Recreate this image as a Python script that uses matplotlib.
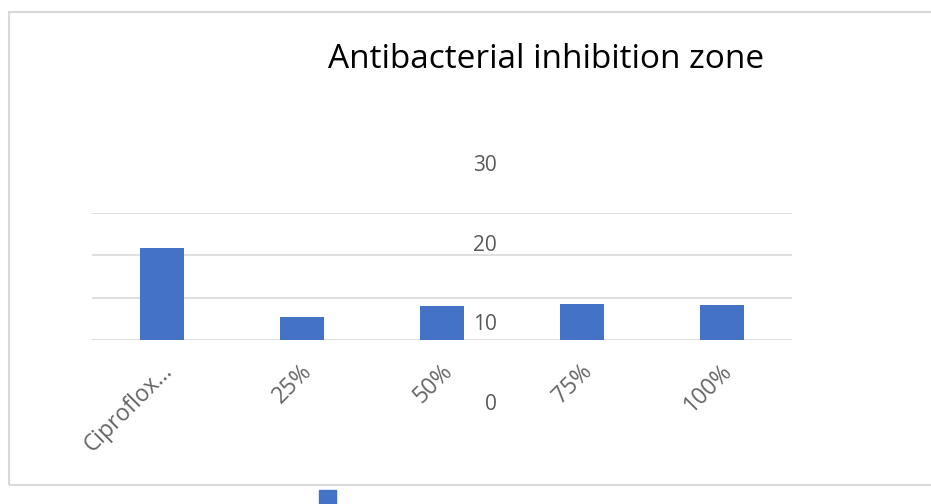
import matplotlib.pyplot as plt
import matplotlib.transforms as mtransforms
from matplotlib.patches import Rectangle

# data
categories = ['Ciproflox...', '25%', '50%', '75%', '100%']
zone = [21.8, 5.5, 8.1, 8.6, 8.3]
yticks = [0, 10, 20, 30]

W, H = 931, 504
fig = plt.figure(figsize=(W / 100, H / 100), dpi=100)
plt.rcParams['font.family'] = ['Open Sans', 'DejaVu Sans']

def px(x0, y0, x1, y1):
    # pixel box (top-left origin) -> figure fraction rect
    return [x0 / W, 1 - y1 / H, (x1 - x0) / W, (y1 - y0) / H]

# outer chart frame
fig.patches.append(Rectangle((9 / W, 1 - 485 / H), 1.0, (485 - 12) / H,
                             transform=fig.transFigure, fill=False,
                             edgecolor='#d9d9d9', lw=1.5))

ax = fig.add_axes(px(92, 213, 792, 340))
ax.bar(range(len(categories)), zone, width=0.32, color='#4472c4', zorder=2)
ax.set_xlim(-0.5, len(categories) - 0.5)
ax.set_ylim(0, 30)
ax.set_yticks(yticks)
ax.yaxis.grid(True, color='#d9d9d9', lw=1.2)
ax.set_axisbelow(True)
ax.tick_params(axis='y', left=False, labelleft=False)
ax.tick_params(axis='x', length=0, pad=20, labelsize=16.5, labelcolor='#666666')
ax.set_xticks(range(len(categories)))
ax.set_xticklabels(categories, rotation=45, ha='right', va='center',
                   rotation_mode='anchor')
shift = mtransforms.ScaledTranslation(7 / 100, 0, fig.dpi_scale_trans)
for lbl in ax.get_xticklabels():
    lbl.set_transform(lbl.get_transform() + shift)
for s in ax.spines.values():
    s.set_visible(False)

# value axis labels, drawn displaced as in the original
ax2 = fig.add_axes(px(497, 163, 520, 402))
ax2.set_ylim(0, 30)
ax2.set_yticks(yticks)
ax2.set_xticks([])
ax2.tick_params(axis='y', length=0, pad=0, labelsize=15, labelcolor='#595959')
ax2.patch.set_visible(False)
for s in ax2.spines.values():
    s.set_visible(False)

fig.text(546 / W, 1 - 68 / H, 'Antibacterial inhibition zone', ha='center',
         va='baseline', fontsize=24, color='black')

# clipped legend key
fig.patches.append(Rectangle((319 / W, 0), 17 / W, 14 / H,
                             transform=fig.transFigure, color='#4472c4'))

fig.savefig('out.png', dpi=100)
